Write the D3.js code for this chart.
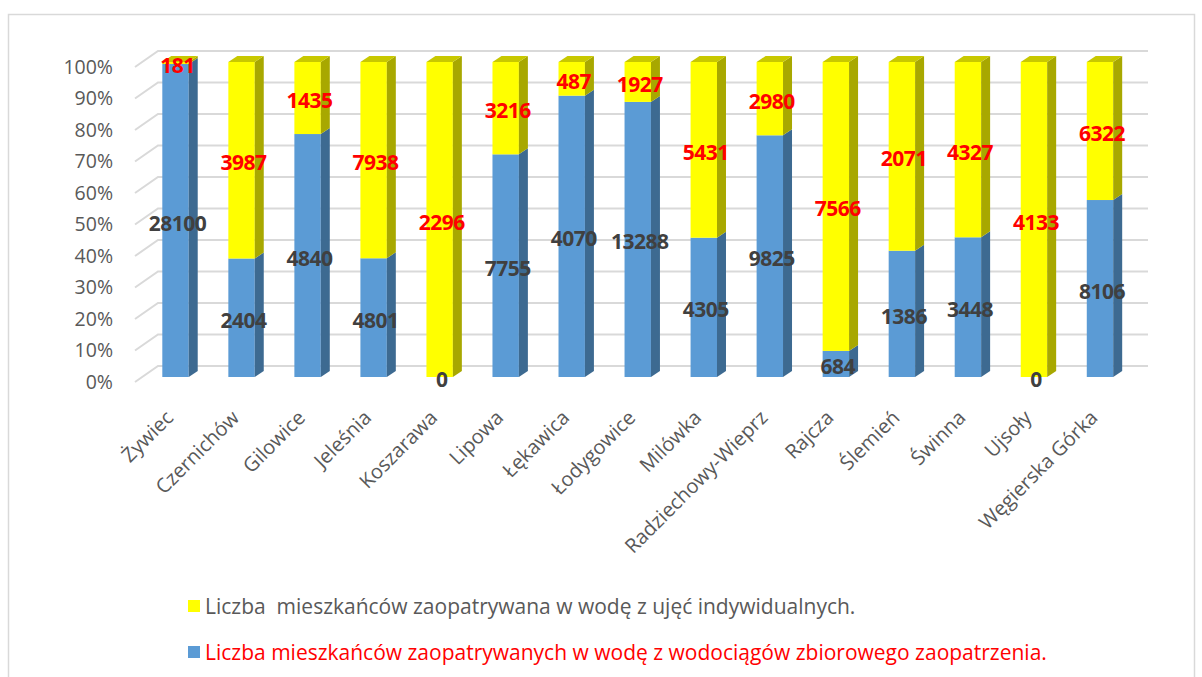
<!DOCTYPE html>
<html>
<head>
<meta charset="utf-8">
<script src="https://cdn.jsdelivr.net/npm/d3@7.9.0/dist/d3.min.js"></script>
<style>
  body { margin: 0; background: #fff; }
  svg { display: block; font-family: "Open Sans", sans-serif; }
</style>
</head>
<body>
<svg id="chart" width="1202" height="677"></svg>
<script>
const categories = ["Żywiec", "Czernichów", "Gilowice", "Jeleśnia", "Koszarawa", "Lipowa", "Łękawica",
  "Łodygowice", "Milówka", "Radziechowy-Wieprz", "Rajcza", "Ślemień", "Świnna", "Ujsoły", "Węgierska Górka"];
// mieszkańcy z wodociągów zbiorowego zaopatrzenia (dolna część)
const collective = [28100, 2404, 4840, 4801, 0, 7755, 4070, 13288, 4305, 9825, 684, 1386, 3448, 0, 8106];
// mieszkańcy z ujęć indywidualnych (górna część)
const individual = [181, 3987, 1435, 7938, 2296, 3216, 487, 1927, 5431, 2980, 7566, 2071, 4327, 4133, 6322];
const yTicks = [0, 0.1, 0.2, 0.3, 0.4, 0.5, 0.6, 0.7, 0.8, 0.9, 1];
const legendLabels = [
  "Liczba  mieszkańców zaopatrywana w wodę z ujęć indywidualnych.",
  "Liczba mieszkańców zaopatrywanych w wodę z wodociągów zbiorowego zaopatrzenia."
];

const svg = d3.select("#chart");
const dx = 9, dy = -6;

// ramka wykresu
svg.append("rect").attr("x", 8.5).attr("y", 14.5).attr("width", 1186).attr("height", 700)
  .attr("fill", "none").attr("stroke", "#d9d9d9").attr("stroke-width", 1.5);

const x = d3.scaleBand().domain(categories).range([142.5, 1133]).paddingInner(0.6).paddingOuter(0.3);
const y = d3.scaleLinear().domain([0, 1]).range([377, 62]);

// siatka (tylna ściana + bok)
const grid = svg.append("g");
yTicks.forEach(t => {
  grid.append("path")
    .attr("d", `M135,${y(t) + 5}L158,${y(t) - 11}H1148`)
    .attr("fill", "none").attr("stroke", "#d9d9d9").attr("stroke-width", 2);
});

// oś Y
const yAxis = svg.append("g").attr("transform", "translate(113,5)")
  .call(d3.axisLeft(y).tickValues(yTicks).tickFormat(d3.format(".0%")).tickSize(0).tickPadding(0));
yAxis.select(".domain").remove();
yAxis.selectAll("text").attr("fill", "#595959").style("font-size", "19.5px")
  .style("font-family", "'Open Sans', sans-serif");

// oś X
const xAxis = svg.append("g").attr("transform", "translate(-6,414)")
  .call(d3.axisBottom(x).tickSize(0).tickPadding(0));
xAxis.select(".domain").remove();
xAxis.selectAll("text")
  .attr("fill", "#595959").style("font-size", "20px").style("font-family", "'Open Sans', sans-serif")
  .attr("text-anchor", "end").attr("dy", "0.35em").attr("y", 0)
  .attr("transform", "rotate(-45)");

function box(g, x0, w, yTop, yBot, front, side, top) {
  g.append("rect").attr("x", x0).attr("y", yTop).attr("width", w).attr("height", yBot - yTop).attr("fill", front);
  g.append("path").attr("d", `M${x0 + w},${yBot}L${x0 + w + dx},${yBot + dy}V${yTop + dy}L${x0 + w},${yTop}Z`).attr("fill", side);
  if (top) {
    g.append("path").attr("d", `M${x0},${yTop}L${x0 + dx},${yTop + dy}H${x0 + w + dx}L${x0 + w},${yTop}Z`).attr("fill", top);
  }
}

const bars = svg.append("g");
const labels = svg.append("g").attr("font-weight", "bold").attr("text-anchor", "middle")
  .style("font-size", "21px").attr("letter-spacing", "-0.5px");

categories.forEach((c, i) => {
  const total = collective[i] + individual[i];
  const pb = collective[i] / total;
  const x0 = x(c), w = x.bandwidth();
  const cx = x0 + w / 2 + 2;
  if (collective[i] > 0) {
    box(bars, x0, w, y(pb), y(0), "#5b9bd5", "#3d6a91", individual[i] > 0 ? null : "#4a85bb");
  }
  if (individual[i] > 0) {
    box(bars, x0, w, y(1), y(pb), "#ffff00", "#a8a800", "#c8c800");
  }
  labels.append("text").attr("x", cx).attr("y", y(pb / 2) + 2).attr("dominant-baseline", "central")
    .attr("fill", "#404040").text(collective[i]);
  labels.append("text").attr("x", cx).attr("y", y((1 + pb) / 2) + 2).attr("dominant-baseline", "central")
    .attr("fill", "#ff0000").text(individual[i]);
});

// legenda
const legend = svg.append("g").style("font-size", "21px");
[["#ffff00", "#595959"], ["#5b9bd5", "#ff0000"]].forEach(([sw, tc], i) => {
  const ly = 606 + i * 46;
  legend.append("rect").attr("x", 188).attr("y", ly - 6).attr("width", 12).attr("height", 12).attr("fill", sw);
  legend.append("text").attr("x", 205).attr("y", ly).attr("dominant-baseline", "central")
    .attr("fill", tc).style("white-space", "pre").text(legendLabels[i]);
});
</script>
</body>
</html>
